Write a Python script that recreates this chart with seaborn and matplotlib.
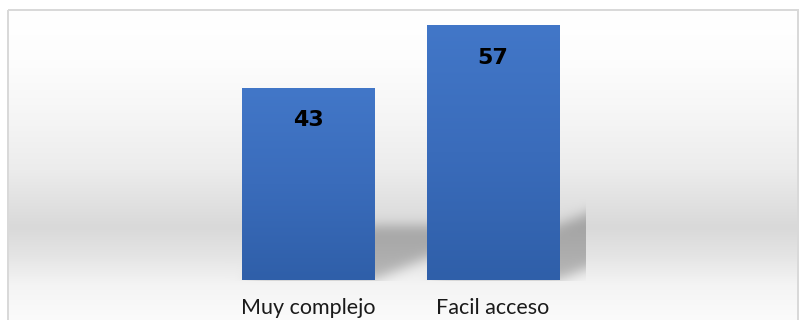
import numpy as np
import pandas as pd
import matplotlib
matplotlib.use("Agg")
import matplotlib.pyplot as plt
import seaborn as sns
from matplotlib.colors import LinearSegmentedColormap
from matplotlib.patches import Rectangle

# Survey answers and their percentages
categories = ["Muy complejo", "Facil acceso"]
values = [43, 57]

W, H, DPI = 799, 320, 100

sns.set_theme(style="white")
plt.rcParams["font.family"] = ["Lato", "DejaVu Sans"]

fig = plt.figure(figsize=(W / DPI, H / DPI), dpi=DPI)

# Full-figure background layer (gradient chart area + bar shadows)
bg = fig.add_axes([0, 0, 1, 1], zorder=0)
bg.set_axis_off()

# Plot area
ax = fig.add_axes([215.5 / W, 40 / H, 370 / W, 267.6 / H], zorder=1)
ax.patch.set_alpha(0)

df = pd.DataFrame({"categoria": categories, "valor": values})
sns.barplot(data=df, x="categoria", y="valor", color="#3B6FBF",
            width=0.714, saturation=1, edgecolor="none", linewidth=0, ax=ax)

# Vertical gradient fill on each bar
bar_cmap = LinearSegmentedColormap.from_list("bar", ["#2F5FA9", "#3A6CBB", "#4277C8"])
grad = np.linspace(0, 1, 256).reshape(-1, 1)
for p in ax.patches:
    x0, w, h = p.get_x(), p.get_width(), p.get_height()
    ax.imshow(grad, extent=[x0, x0 + w, 0, h], origin="lower", cmap=bar_cmap,
              aspect="auto", interpolation="bilinear", zorder=p.get_zorder() + 0.1)

ax.set_xlim(-0.5, 1.5)
ax.set_ylim(0, 60)
sns.despine(ax=ax, left=True, bottom=True)
ax.set_yticks([])
ax.set_xlabel("")
ax.set_ylabel("")
ax.tick_params(axis="x", length=0, pad=13, labelsize=15.5, labelcolor="#1a1a1a")

# Value labels inside the bars
for i, v in enumerate(values):
    ax.annotate(f"{v}", (i, v), xytext=(0, -27.4), textcoords="offset points",
                ha="center", va="baseline", fontsize=16, fontweight="bold",
                family=["DejaVu Sans"], color="black", zorder=5)

fig.canvas.draw()

# Chart-area gradient (light at top, grey band low, light again at bottom)
ys = np.arange(H) + 0.5
stops_y = [10, 60, 120, 170, 227, 255, 285, 320]
stops_v = [255, 253, 245, 236, 217, 228, 244, 251]
col = np.interp(ys, stops_y, stops_v) / 255.0
img = np.ones((H, W))
img[11:, 9:797] = col[11:, None]

# Perspective shadows cast by the bars, clipped to the plot area
A = np.zeros((H, W))
xs = np.arange(W) + 0.5
for p in ax.patches:
    bb = p.get_window_extent()
    xl, xr = bb.x0, bb.x1
    ytop, ybase = H - bb.y1, H - bb.y0
    sh = 0.28 * (ybase - ytop)
    S = 2.4 * sh
    for r in range(H):
        u = (ybase - (r + 0.5)) / sh
        if 0 <= u <= 1:
            m = (xs >= xl + u * S) & (xs <= xr + u * S)
            A[r, m] = 0.24


def blur1d(a, sigma, axis):
    k = np.arange(-int(3 * sigma), int(3 * sigma) + 1)
    ker = np.exp(-0.5 * (k / sigma) ** 2)
    ker /= ker.sum()
    return np.apply_along_axis(lambda v: np.convolve(v, ker, mode="same"), axis, a)


A = blur1d(blur1d(A, 6, 0), 6, 1)
axbb = ax.get_window_extent()
A[:, (xs < axbb.x0) | (xs > axbb.x1)] = 0
base_row = int(round(H - axbb.y0))
A[base_row + 1:, :] = 0
img = img * (1 - A)

rgb = np.dstack([img, img, img])
bg.imshow(rgb, extent=(0, W, H, 0), origin="upper", interpolation="nearest", aspect="auto")
bg.add_patch(Rectangle((8, 10), 790, 330, fill=False, edgecolor="#d9d9d9", lw=1.44))
bg.set_xlim(0, W)
bg.set_ylim(H, 0)

fig.savefig("out.png", dpi=DPI)
